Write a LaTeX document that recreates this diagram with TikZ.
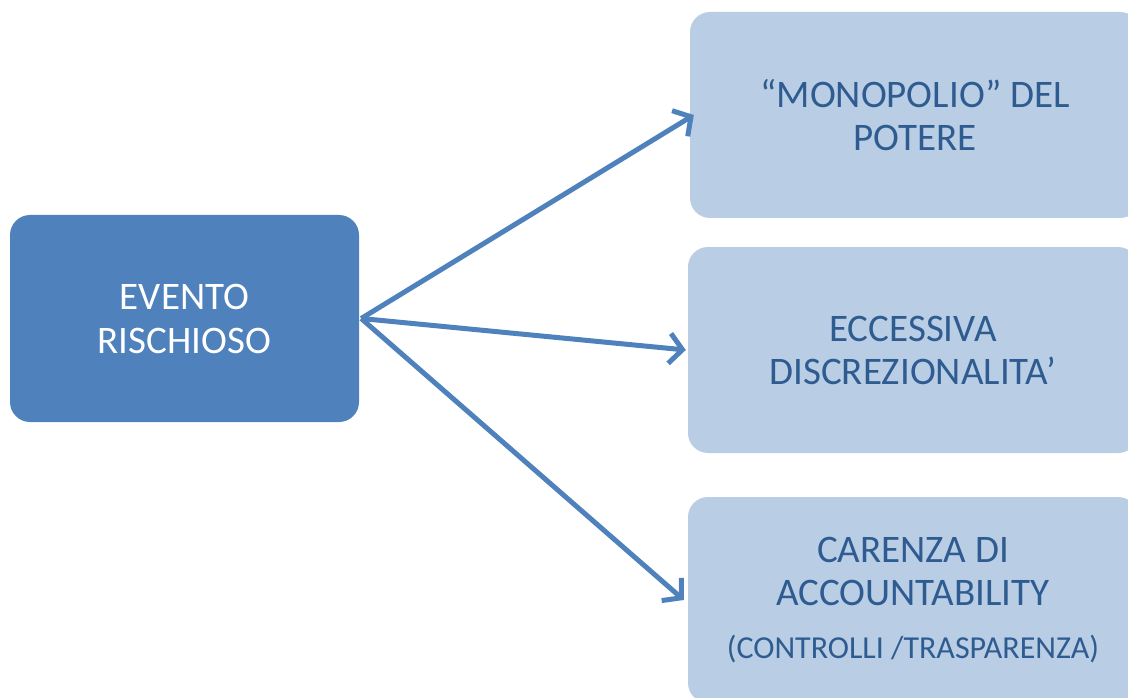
\documentclass[tikz,border=0pt]{standalone}
\usepackage{fontspec}
\setmainfont{Carlito}
\usetikzlibrary{arrows.meta}
\definecolor{darkbox}{HTML}{4F81BD}
\definecolor{lightbox}{HTML}{B9CDE5}
\definecolor{boxtext}{HTML}{2F5C90}
\begin{document}
\begin{tikzpicture}[x=1pt,y=-1pt,
  mainbox/.style={fill=darkbox, draw=none, rounded corners=20pt, minimum width=349pt, minimum height=207pt,
    text=white, align=center, font=\fontsize{39}{44}\selectfont, inner sep=0pt},
  sidebox/.style={fill=lightbox, draw=none, rounded corners=20pt, minimum width=450pt, minimum height=206pt,
    text=boxtext, align=center, font=\fontsize{39}{43}\selectfont, inner sep=0pt},
  arr/.style={draw=darkbox, line width=5pt, -{Straight Barb[length=13pt, width=30pt, line width=5pt]}}]
\useasboundingbox (0,0) rectangle (1128,698);
\clip (0,0) rectangle (1128,698);
\node[mainbox] (ev) at (184.5,318.5) {EVENTO\\RISCHIOSO};
\node[sidebox] (mon) at (915,115) {“MONOPOLIO” DEL\\POTERE};
\node[sidebox] (ecc) at (913,350) {ECCESSIVA\\DISCREZIONALITA’};
\node[sidebox] (car) at (913,600) {CARENZA DI\\ACCOUNTABILITY\\[10pt]{\fontsize{32}{34}\selectfont (CONTROLLI /TRASPARENZA)}};
\coordinate (start) at ([xshift=2pt]ev.east);
\draw[arr] (start) -- ([xshift=4pt]mon.west);
\draw[arr] (start) -- ([xshift=-2pt]ecc.west);
\draw[arr] (start) -- ([xshift=-4pt]car.west);
\end{tikzpicture}
\end{document}
